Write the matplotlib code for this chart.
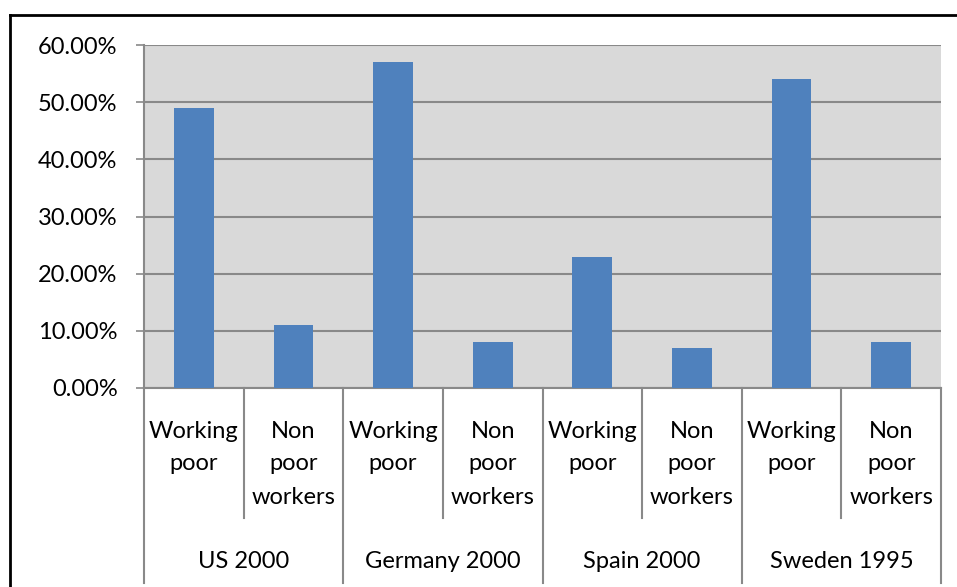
import matplotlib
matplotlib.use('Agg')
import matplotlib.pyplot as plt
from matplotlib.lines import Line2D
from matplotlib.ticker import FuncFormatter, MultipleLocator
import matplotlib.transforms as mtransforms

# data
groups = ['US 2000', 'Germany 2000', 'Spain 2000', 'Sweden 1995']
sub_labels = ['Working\npoor', 'Non\npoor\nworkers']
values = [49, 11, 57, 8, 23, 7, 54, 8]  # percent

BAR_COLOR = '#4f81bd'
BG_COLOR = '#d9d9d9'
LINE_COLOR = '#898989'
W, H = 957, 587
DPI = 100
FS = 17

plt.rcParams['font.family'] = ['Lato', 'DejaVu Sans']

fig = plt.figure(figsize=(W / DPI, H / DPI), dpi=DPI)

# plot area in pixels (left, top, right, bottom)
px_l, px_t, px_r, px_b = 144, 45, 941, 388
ax = fig.add_axes([px_l / W, 1 - px_b / H, (px_r - px_l) / W, (px_b - px_t) / H])
ax.set_facecolor(BG_COLOR)

n = len(values)
xs = list(range(n))
ax.bar(xs, values, width=0.4, color=BAR_COLOR, zorder=3)
ax.set_xlim(-0.5, n - 0.5)
ax.set_ylim(0, 60)

ax.yaxis.set_major_locator(MultipleLocator(10))
ax.yaxis.set_major_formatter(FuncFormatter(lambda v, p: f'{v:.2f}%'))
ax.grid(axis='y', color=LINE_COLOR, linewidth=1.5, zorder=1)
ax.set_axisbelow(True)
ax.tick_params(axis='y', length=6, width=1.2, color=LINE_COLOR, pad=13,
               labelsize=FS, labelcolor='black')
ax.set_xticks([])

for side in ['top', 'right']:
    ax.spines[side].set_visible(False)
for side in ['left', 'bottom']:
    ax.spines[side].set_color(LINE_COLOR)
    ax.spines[side].set_linewidth(1.5)

# multi-level category axis
trans = mtransforms.blended_transform_factory(ax.transData, ax.transAxes)
ph = px_b - px_t
sub_bottom = -(518 - px_b) / ph
grp_bottom = -(583 - px_b) / ph

for i in range(n + 1):
    x = i - 0.5
    y0 = grp_bottom if i % 2 == 0 else sub_bottom
    ax.add_line(Line2D([x, x], [0, y0], transform=trans, color=LINE_COLOR,
                       linewidth=1.5, clip_on=False))

line_gap = 33
first_line = 431
for i in range(n):
    lines = sub_labels[i % 2].split('\n')
    for k, txt in enumerate(lines):
        y = -(first_line + k * line_gap - px_b) / ph
        ax.text(i, y, txt, transform=trans, ha='center', va='center',
                fontsize=FS, color='black')

for g, name in enumerate(groups):
    y = -(561 - px_b) / ph
    ax.text(2 * g + 0.5, y, name, transform=trans, ha='center', va='center',
            fontsize=FS, color='black')

# chart outer border (top and left visible)
fig.add_artist(Line2D([10 / W, 1], [1 - 15 / H, 1 - 15 / H],
                      transform=fig.transFigure, color='black', linewidth=2))
fig.add_artist(Line2D([10 / W, 10 / W], [0, 1 - 15 / H],
                      transform=fig.transFigure, color='black', linewidth=2))

fig.savefig('out.png', dpi=DPI)
